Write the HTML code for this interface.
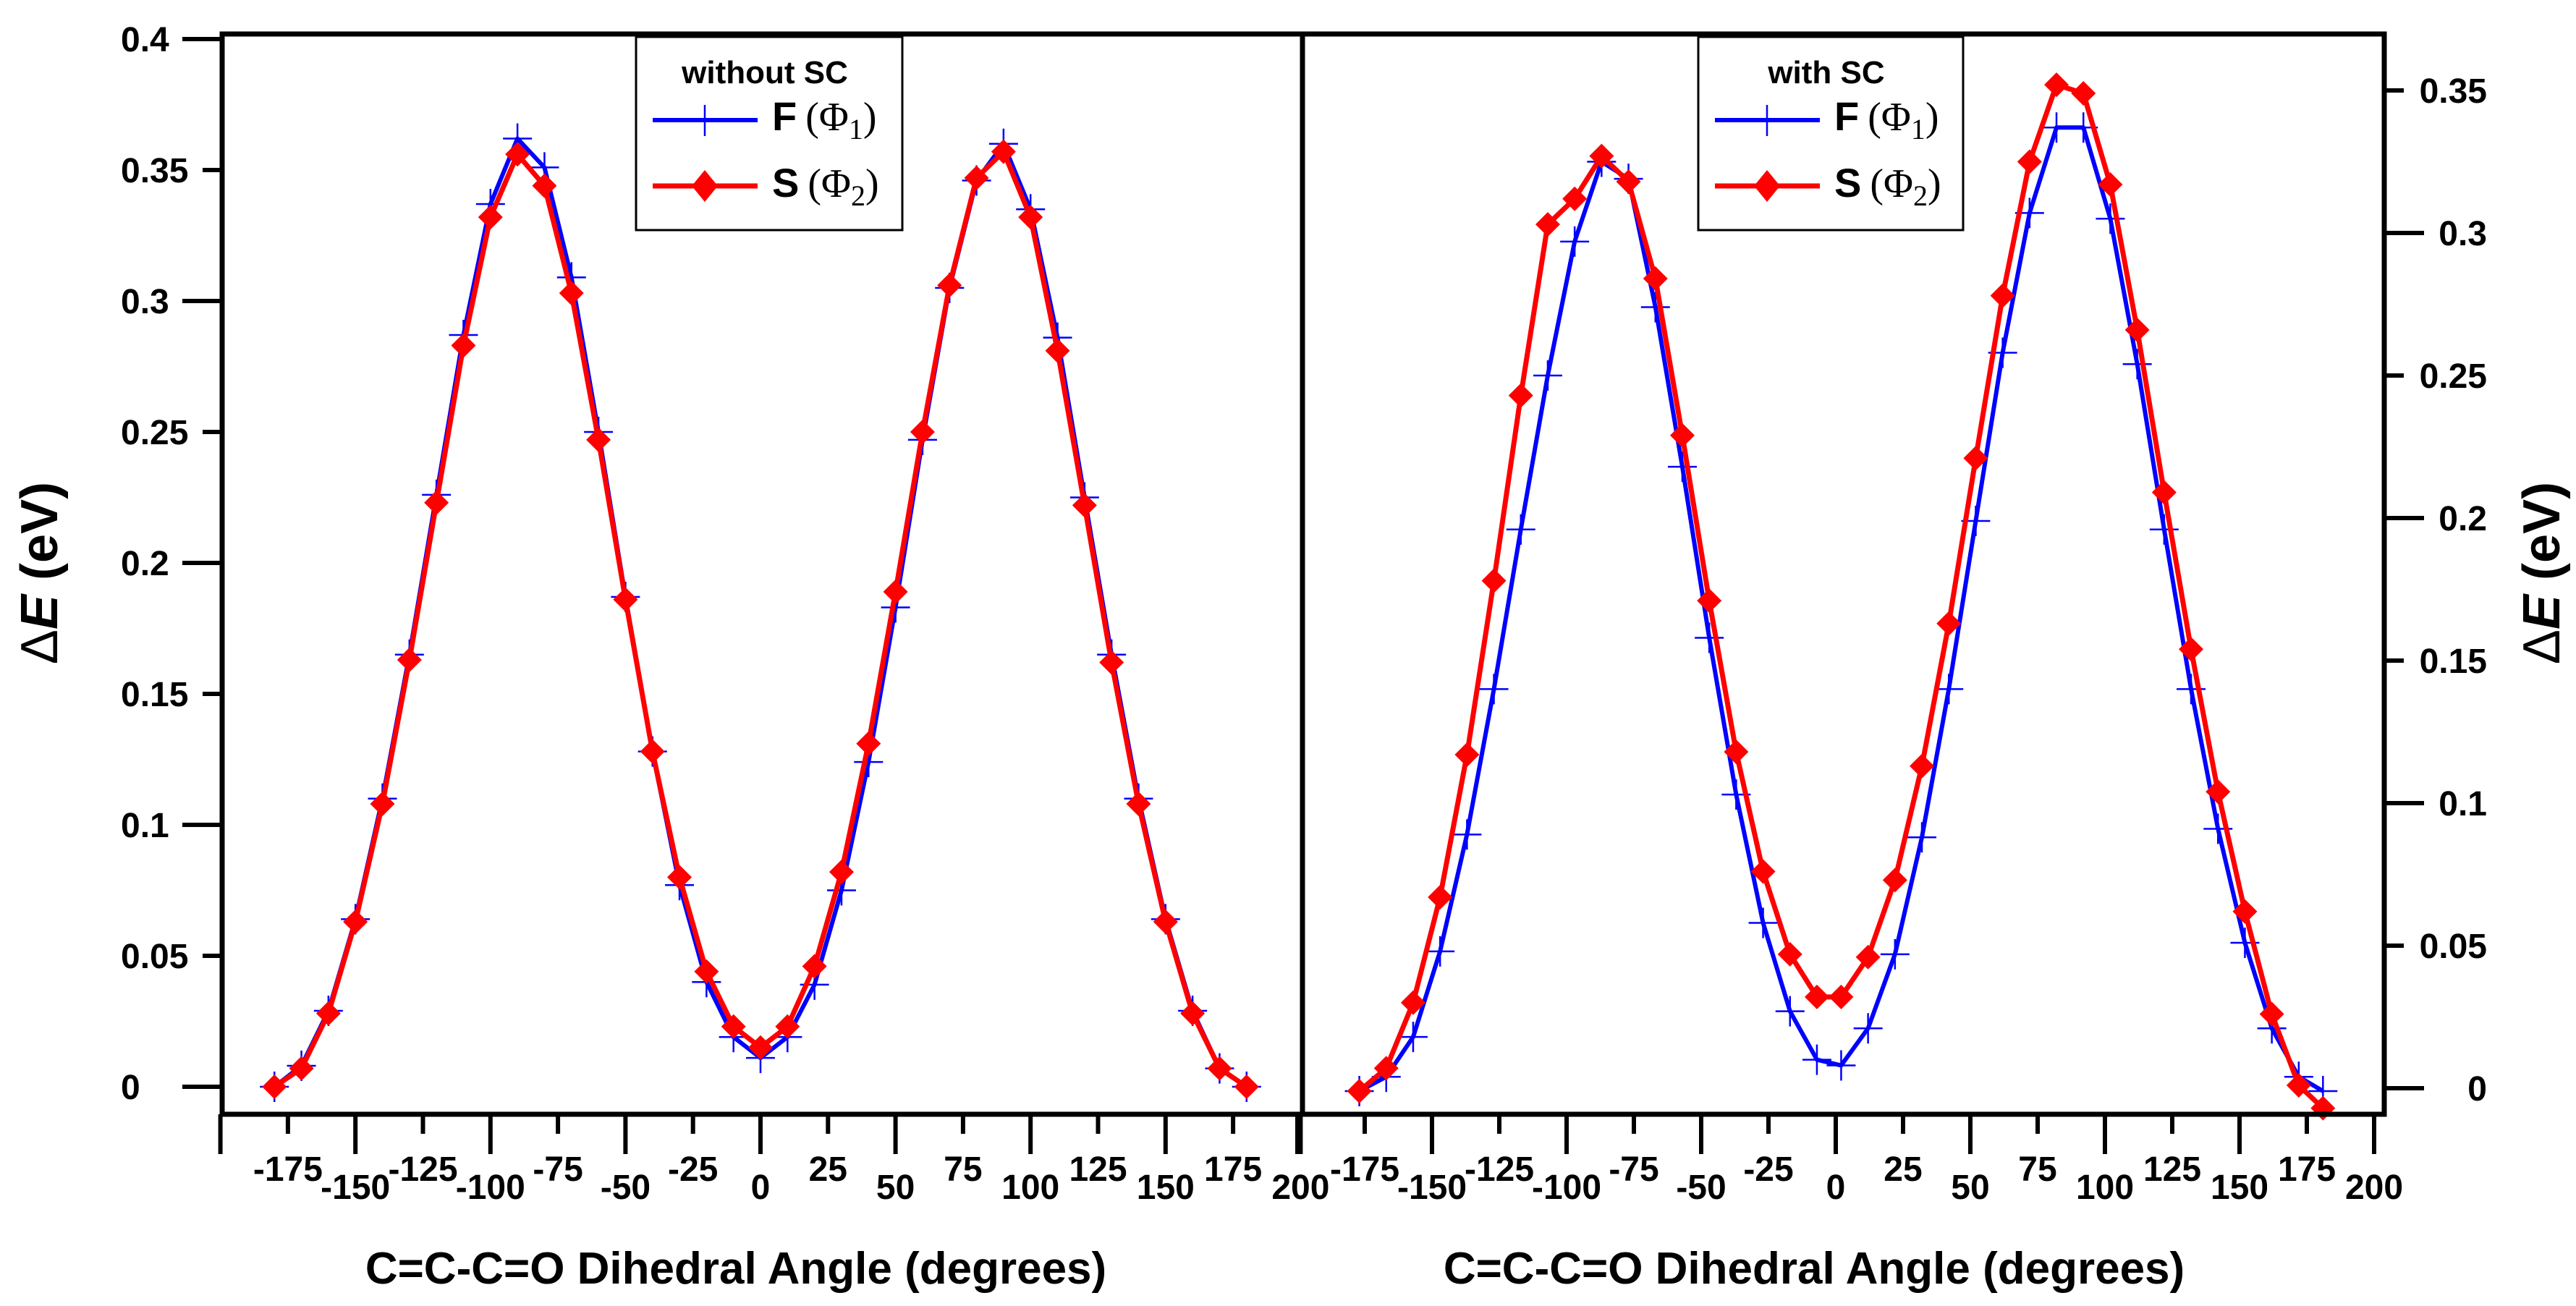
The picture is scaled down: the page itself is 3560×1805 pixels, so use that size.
<!DOCTYPE html>
<html><head><meta charset="utf-8"><style>
html,body{margin:0;padding:0;background:#fff;}
svg text{font-family:"Liberation Sans",sans-serif;}
</style></head><body>
<svg id="chart" width="3560" height="1800" viewBox="0 0 3560 1800" xmlns="http://www.w3.org/2000/svg"></svg>
<script>
// ---- data ----
const xTicks = [-200,-175,-150,-125,-100,-75,-50,-25,0,25,50,75,100,125,150,175,200];
const xTickLabels = ["","-175","-150","-125","-100","-75","-50","-25","0","25","50","75","100","125","150","175","200"];
const yTicksLeft = [0,0.05,0.1,0.15,0.2,0.25,0.3,0.35,0.4];
const yTickLabelsLeft = ["0","0.05","0.1","0.15","0.2","0.25","0.3","0.35","0.4"];
const yTicksRight = [0,0.05,0.1,0.15,0.2,0.25,0.3,0.35];
const yTickLabelsRight = ["0","0.05","0.1","0.15","0.2","0.25","0.3","0.35"];

const anglesLeft = [-180,-170,-160,-150,-140,-130,-120,-110,-100,-90,-80,-70,-60,-50,-40,-30,-20,-10,0,10,20,30,40,50,60,70,80,90,100,110,120,130,140,150,160,170,180];
const fLeft = [0,0.008,0.029,0.064,0.110,0.165,0.226,0.287,0.337,0.362,0.351,0.309,0.250,0.187,0.128,0.077,0.040,0.019,0.011,0.019,0.039,0.075,0.124,0.183,0.247,0.305,0.346,0.360,0.335,0.286,0.225,0.165,0.110,0.064,0.029,0.007,0];
const sLeft = [0,0.007,0.028,0.063,0.108,0.163,0.223,0.283,0.332,0.356,0.344,0.303,0.247,0.186,0.128,0.080,0.044,0.023,0.015,0.023,0.046,0.082,0.131,0.189,0.250,0.306,0.347,0.357,0.332,0.281,0.222,0.162,0.108,0.063,0.028,0.007,0];

const anglesRight = [-177,-167,-157,-147,-137,-127,-117,-107,-97,-87,-77,-67,-57,-47,-37,-27,-17,-7,2,12,22,32,42,52,62,72,82,92,102,112,122,132,142,152,162,172,181];
const fRight = [-0.001,0.004,0.018,0.048,0.089,0.140,0.196,0.250,0.297,0.325,0.319,0.274,0.218,0.158,0.103,0.058,0.027,0.010,0.008,0.021,0.047,0.088,0.140,0.199,0.258,0.307,0.337,0.337,0.305,0.254,0.196,0.140,0.091,0.051,0.021,0.004,-0.001];
const sRight = [-0.001,0.007,0.030,0.067,0.117,0.178,0.243,0.303,0.312,0.327,0.318,0.284,0.229,0.171,0.118,0.076,0.047,0.032,0.032,0.046,0.073,0.113,0.163,0.221,0.278,0.325,0.352,0.349,0.317,0.266,0.209,0.154,0.104,0.062,0.026,0.001,-0.007];

// ---- helpers ----
const NS="http://www.w3.org/2000/svg";
const svg=document.getElementById('chart');
function mk(tag,attrs,parent){const e=document.createElementNS(NS,tag);for(const k in attrs)e.setAttribute(k,attrs[k]);(parent||svg).appendChild(e);return e;}

const panels=[
 {name:'left',x0:307,x1:1800,top:47,bottom:1540,xZero:1051,xPer:93.3/25,yZero:1502,yPer:3620,
  yTicks:yTicksLeft,yLabels:yTickLabelsLeft,side:'left',angles:anglesLeft,f:fLeft,s:sLeft,
  legend:{x:879,w:368,title:'without SC'},xTitleX:1017},
 {name:'right',x0:1800,x1:3295,top:47,bottom:1540,xZero:2537,xPer:93.0/25,yZero:1504,yPer:3940,
  yTicks:yTicksRight,yLabels:yTickLabelsRight,side:'right',angles:anglesRight,f:fRight,s:sRight,
  legend:{x:2347,w:366,title:'with SC'},xTitleX:2507}
];

panels.forEach(p=>{
  const X=v=>p.xZero+v*p.xPer;
  const Y=v=>p.yZero-v*p.yPer;
  const g=mk('g',{});
  
  
  // x ticks
  xTicks.forEach((t,i)=>{
    const x=X(t);
    if(x<p.x0-12||x>p.x1+12) return;
    const major=(t%50===0);
    const tk=mk('line',{x1:x,y1:p.bottom,x2:x,y2:p.bottom+(major?55:27),stroke:'#000','stroke-width':6},g);
    
    
    if(xTickLabels[i]){
      const tx=mk('text',{x:x,y:major?1657:1632,'text-anchor':'middle','font-size':48,'font-weight':'bold'},g);
      tx.textContent=xTickLabels[i];
      
      
    }
  });
  // y ticks
  p.yTicks.forEach((t,i)=>{
    const y=Y(t);
    const major=(Math.round(t*100)%10===0);
    const len=major?55:27;
    const edge=p.side==='left'?p.x0:p.x1;
    const dir=p.side==='left'?-1:1;
    const tk=mk('line',{x1:edge,y1:y,x2:edge+dir*len,y2:y,stroke:'#000','stroke-width':6},g);
    
    
    const tx=mk('text',p.side==='left'?{x:167,y:y+17,'text-anchor':'start','font-size':48,'font-weight':'bold'}:{x:3437,y:y+17,'text-anchor':'end','font-size':48,'font-weight':'bold'},g);
    tx.textContent=p.yLabels[i];
    
    
  });
  // series
  const ptsF=p.angles.map((a,i)=>X(a)+','+Y(p.f[i])).join(' ');
  const lf=mk('polyline',{points:ptsF,fill:'none',stroke:'#0000ff','stroke-width':6,'stroke-linejoin':'round'},g);
  
  
  p.angles.forEach((a,i)=>{
    const x=X(a),y=Y(p.f[i]);
    const m=mk('path',{d:`M${x-20},${y}H${x+20}M${x},${y-21}V${y+21}`,stroke:'#0000ff','stroke-width':2.5,fill:'none'},g);
    
    
  });
  const ptsS=p.angles.map((a,i)=>X(a)+','+Y(p.s[i])).join(' ');
  const ls=mk('polyline',{points:ptsS,fill:'none',stroke:'#ff0000','stroke-width':7,'stroke-linejoin':'round'},g);
  
  
  p.angles.forEach((a,i)=>{
    const x=X(a),y=Y(p.s[i]);
    const m=mk('path',{d:`M${x},${y-17}L${x+17},${y}L${x},${y+17}L${x-17},${y}Z`,fill:'#ff0000'},g);
    
    
  });
  // frame
  const fr=mk('rect',{x:p.x0,y:p.top,width:p.x1-p.x0,height:p.bottom-p.top,fill:'none',stroke:'#000','stroke-width':7},g);
  
  
  // legend
  const L=p.legend;
  const lg=mk('g',{},g);
  
  
  mk('rect',{x:L.x,y:51,width:L.w,height:267,fill:'#fff',stroke:'#000','stroke-width':3},lg);
  const lt=mk('text',{x:L.x+L.w/2-6,y:115,'text-anchor':'middle','font-size':44,'font-weight':'bold'},lg);
  lt.textContent=L.title;
  
  
  const lx=L.x+23;
  const e1=mk('g',{},lg);
  
  
  mk('line',{x1:lx,y1:166,x2:lx+145,y2:166,stroke:'#0000ff','stroke-width':6},e1);
  mk('line',{x1:lx+72,y1:145,x2:lx+72,y2:188,stroke:'#0000ff','stroke-width':2.5},e1);
  const t1=mk('text',{x:lx+165,y:180,'font-size':56},e1);
  t1.innerHTML='<tspan font-weight="bold">F</tspan><tspan font-family="Liberation Serif, serif" dx="12">(Φ</tspan><tspan font-family="Liberation Serif, serif" font-size="40" dy="12">1</tspan><tspan font-family="Liberation Serif, serif" dy="-12">)</tspan>';
  const e2=mk('g',{},lg);
  
  
  mk('line',{x1:lx,y1:257,x2:lx+145,y2:257,stroke:'#ff0000','stroke-width':7},e2);
  mk('path',{d:`M${lx+72},${235}L${lx+90},${257}L${lx+72},${279}L${lx+54},${257}Z`,fill:'#ff0000'},e2);
  const t2=mk('text',{x:lx+165,y:272,'font-size':56},e2);
  t2.innerHTML='<tspan font-weight="bold">S</tspan><tspan font-family="Liberation Serif, serif" dx="12">(Φ</tspan><tspan font-family="Liberation Serif, serif" font-size="40" dy="12">2</tspan><tspan font-family="Liberation Serif, serif" dy="-12">)</tspan>';
  // x title
  const xt=mk('text',{x:p.xTitleX,y:1774,'text-anchor':'middle','font-size':62,'font-weight':'bold'},g);
  xt.textContent='C=C-C=O Dihedral Angle (degrees)';
  
  
});
// y titles
[[79,'left-y-axis-title'],[3537,'right-y-axis-title']].forEach(([x,n])=>{
  const t=mk('text',{x:x,y:792,'text-anchor':'middle','font-size':72,'font-weight':'bold',transform:`rotate(-90 ${x} 792)`});
  t.innerHTML='<tspan font-weight="normal">Δ</tspan><tspan font-style="italic">E</tspan> (eV)';
  
  
});
</script>
</body></html>
